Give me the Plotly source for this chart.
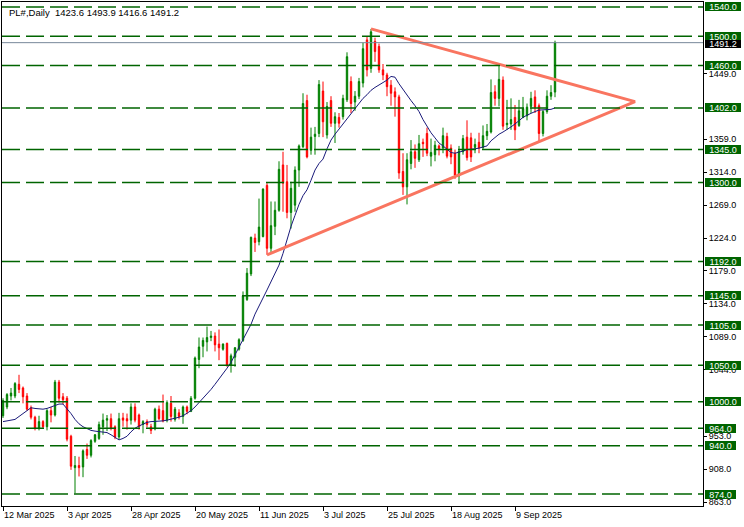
import numpy as np
import pandas as pd
import plotly.graph_objects as go

# ---------------- data ----------------
START = "2025-03-12"
END = "2025-09-23"
HOLIDAYS = ["2025-04-18"]
DATES = [d.strftime("%Y-%m-%d") for d in pd.bdate_range(START, END)
         if d.strftime("%Y-%m-%d") not in HOLIDAYS]

OPEN = [981, 993, 1008, 1008, 1024, 1019, 1008, 992, 979, 964,
        973, 966, 988, 982, 1027, 1007, 1005, 953, 910, 913,
        911, 935, 927, 946, 950, 966, 975, 977, 966, 952,
        978, 977, 975, 993, 982, 969, 973, 966, 963, 990,
        988, 975, 998, 976, 985, 980, 993, 987, 1005, 1058,
        1076, 1082, 1088, 1090, 1079, 1072, 1080, 1050, 1061, 1072,
        1084, 1140, 1175, 1224, 1219, 1226, 1296, 1210, 1240, 1262,
        1324, 1301, 1259, 1269, 1317, 1349, 1412, 1344, 1363, 1367,
        1425, 1365, 1412, 1381, 1389, 1390, 1413, 1438, 1410, 1418,
        1436, 1495, 1456, 1493, 1486, 1454, 1447, 1433, 1424, 1417,
        1315, 1294, 1326, 1342, 1331, 1355, 1367, 1336, 1338, 1350,
        1347, 1363, 1347, 1340, 1309, 1342, 1362, 1361, 1348, 1355,
        1348, 1364, 1369, 1424, 1415, 1440, 1379, 1380, 1389, 1378,
        1389, 1391, 1404, 1417, 1405, 1367, 1397, 1418, 1423.6]
HIGH = [1005, 1012, 1019, 1027, 1037, 1021, 1012, 995, 981, 981,
        975, 990, 993, 1030, 1030, 1012, 1008, 955, 926, 925,
        935, 943, 949, 956, 973, 984, 982, 984, 968, 985,
        985, 984, 998, 998, 984, 975, 976, 970, 992, 995,
        1010, 1002, 1008, 993, 990, 995, 995, 1008, 1062, 1088,
        1088, 1103, 1097, 1095, 1099, 1080, 1081, 1066, 1075, 1087,
        1151, 1183, 1226, 1230, 1278, 1292, 1299, 1274, 1274, 1329,
        1342, 1324, 1301, 1322, 1352, 1422, 1420, 1375, 1376, 1440,
        1438, 1410, 1418, 1396, 1395, 1420, 1478, 1445, 1425, 1443,
        1491, 1500, 1510, 1498, 1490, 1462, 1450, 1440, 1430, 1420,
        1340, 1340, 1358, 1352, 1365, 1360, 1375, 1360, 1357, 1352,
        1375, 1368, 1352, 1345, 1350, 1365, 1385, 1368, 1360, 1368,
        1378, 1380, 1441, 1433, 1460, 1445, 1413, 1415, 1406, 1413,
        1417, 1408, 1424, 1426, 1408, 1399, 1426, 1433, 1493.9]
LOW = [978, 990, 1002, 1005, 1012, 998, 988, 976, 961, 961,
       963, 961, 972, 980, 999, 997, 946, 907, 875, 898,
       897, 922, 924, 944, 948, 955, 960, 961, 949, 949,
       966, 962, 969, 972, 962, 957, 965, 956, 961, 975,
       972, 972, 973, 973, 976, 970, 983, 986, 1003, 1046,
       1061, 1069, 1083, 1069, 1057, 1070, 1048, 1040, 1048, 1070,
       1082, 1138, 1172, 1205, 1214, 1225, 1201, 1205, 1228, 1260,
       1260, 1251, 1237, 1260, 1294, 1347, 1333, 1338, 1338, 1362,
       1362, 1360, 1376, 1354, 1375, 1386, 1410, 1395, 1398, 1414,
       1430, 1445, 1450, 1465, 1450, 1440, 1418, 1405, 1390, 1305,
       1283, 1270, 1318, 1320, 1328, 1335, 1336, 1322, 1329, 1337,
       1340, 1333, 1325, 1305, 1298, 1338, 1330, 1328, 1340, 1340,
       1345, 1358, 1367, 1405, 1404, 1372, 1372, 1372, 1358, 1376,
       1388, 1385, 1395, 1395, 1356, 1363, 1394, 1413, 1416.6]
CLOSE = [1002, 1010, 1012, 1025, 1017, 1007, 990, 979, 964, 973,
         966, 988, 982, 1027, 1005, 1003, 949, 912, 913, 910,
         933, 927, 947, 955, 969, 975, 977, 964, 952, 977,
         975, 974, 993, 975, 966, 973, 969, 961, 990, 977,
         974, 999, 980, 990, 980, 993, 987, 1005, 1060, 1075,
         1084, 1088, 1090, 1078, 1074, 1079, 1050, 1063, 1074, 1085,
         1145, 1176, 1225, 1218, 1239, 1291, 1210, 1241, 1262, 1318,
         1299, 1259, 1292, 1317, 1350, 1408, 1335, 1362, 1366, 1434,
         1383, 1404, 1381, 1390, 1381, 1415, 1472, 1408, 1418, 1438,
         1483, 1454, 1506, 1479, 1454, 1447, 1431, 1422, 1417, 1313,
         1294, 1331, 1342, 1333, 1353, 1353, 1340, 1341, 1351, 1345,
         1364, 1336, 1335, 1310, 1343, 1360, 1334, 1335, 1352, 1347,
         1364, 1370, 1423, 1415, 1441, 1377, 1381, 1386, 1372, 1398,
         1401, 1403, 1415, 1403, 1367, 1397, 1418, 1423, 1491.2]
MA = [973, 974, 975, 976, 980, 984, 989, 992, 991, 990,
      990, 991, 993, 996, 997, 997, 991, 984, 976, 970,
      966, 963, 961, 960, 959, 959, 958, 955, 951, 948,
      950, 953, 959, 964, 967, 970, 972, 973, 973, 974,
      974, 975, 976, 977, 979, 981, 984, 988, 993, 999,
      1004, 1010, 1017, 1024, 1031, 1038, 1046, 1054, 1064, 1074,
      1084, 1094, 1106, 1120, 1132, 1142, 1153, 1164, 1176, 1187,
      1203, 1222, 1240, 1255, 1270, 1282, 1290, 1303, 1317, 1326,
      1332, 1346, 1358, 1366, 1373, 1380, 1388, 1395, 1402, 1409,
      1415, 1420, 1426, 1430, 1433, 1436, 1440, 1445, 1444, 1435,
      1427, 1420, 1412, 1405, 1397, 1386, 1377, 1368, 1361, 1354,
      1350, 1346, 1341, 1340, 1341, 1343, 1345, 1345, 1346, 1347,
      1348, 1350, 1357, 1362, 1366, 1369, 1372, 1376, 1380, 1385,
      1389, 1392, 1395, 1397, 1399, 1399, 1399, 1400, 1402]

LEVELS = [1540, 1500, 1460, 1402, 1345, 1300, 1192, 1145, 1105, 1050, 1000, 964, 940, 874]
AXIS_TICKS = [1449, 1359, 1314, 1269, 1224, 1179, 1134, 1089, 1044, 953, 908, 863]
LAST_PRICE = CLOSE[-1]
TICK_DATES = ["2025-03-12", "2025-04-03", "2025-04-28", "2025-05-20", "2025-06-11",
              "2025-07-03", "2025-07-25", "2025-08-18", "2025-09-09"]
TICK_TEXT = ["12 Mar 2025", "3 Apr 2025", "28 Apr 2025", "20 May 2025", "11 Jun 2025",
             "3 Jul 2025", "25 Jul 2025", "18 Aug 2025", "9 Sep 2025"]
TRI_DATES = ["2025-07-21", "2025-10-21", "2025-06-13"]
TRI_PRICES = [1510, 1410.5, 1201]

assert len(DATES) == len(OPEN) == len(HIGH) == len(LOW) == len(CLOSE) == len(MA)


def pos(d):
    """trading-day position on the chart's time scale"""
    return int(np.busday_count(START, d, holidays=HOLIDAYS))


X = [pos(d) for d in DATES]

FONT = "Liberation Sans"
GREEN_LVL = "#006400"

fig = go.Figure()
fig.add_trace(go.Candlestick(
    x=X, open=OPEN, high=HIGH, low=LOW, close=CLOSE,
    increasing=dict(line=dict(color="#008000", width=1), fillcolor="#008000"),
    decreasing=dict(line=dict(color="#FF0000", width=1), fillcolor="#FF0000"),
    hoverinfo="skip", showlegend=False,
))
fig.add_trace(go.Scatter(x=X, y=MA, mode="lines",
                         line=dict(color="#1a1a7a", width=1),
                         hoverinfo="skip", showlegend=False))
fig.add_trace(go.Scatter(x=[pos(d) for d in TRI_DATES], y=TRI_PRICES, mode="lines",
                         line=dict(color="#F97560", width=3),
                         hoverinfo="skip", showlegend=False))

shapes = []
for lv in LEVELS:
    shapes.append(dict(type="line", xref="paper", x0=0, x1=1, yref="y", y0=lv, y1=lv,
                       line=dict(color=GREEN_LVL, width=1.5, dash="18px,6px"), layer="above"))
shapes.append(dict(type="line", xref="paper", x0=0, x1=1, yref="y", y0=LAST_PRICE, y1=LAST_PRICE,
                   line=dict(color="#778899", width=1), layer="above"))

annotations = []
for lv in LEVELS:
    txt = f"{lv:.1f}"
    annotations.append(dict(
        x=1, xref="paper", y=lv, yref="y", xanchor="left", yanchor="middle", xshift=2,
        text=txt, showarrow=False, bgcolor=GREEN_LVL, borderpad=0, borderwidth=0,
        width=36 if len(txt) > 5 else 31, height=9,
        font=dict(family=FONT, size=9, color="white")))
annotations.append(dict(
    x=1, xref="paper", y=LAST_PRICE, yref="y", xanchor="left", yanchor="middle", xshift=2,
    yshift=-1, text=f"{LAST_PRICE:.1f}", showarrow=False, bgcolor="black", borderpad=0,
    borderwidth=0, width=36, height=8, font=dict(family=FONT, size=9, color="white")))
annotations.append(dict(
    x=0, xref="paper", y=1, yref="paper", xanchor="left", yanchor="top", xshift=5, yshift=-3,
    text=f"PL#,Daily  {OPEN[-1]:.1f} {HIGH[-1]:.1f} {LOW[-1]:.1f} {CLOSE[-1]:.1f}",
    showarrow=False, font=dict(family=FONT, size=9.5, color="black")))

fig.update_layout(
    width=744, height=527,
    margin=dict(l=2, r=41, t=2, b=21),
    paper_bgcolor="white", plot_bgcolor="white",
    font=dict(family=FONT, size=9, color="black"),
    showlegend=False, hovermode=False,
    boxgap=0.5,
    shapes=shapes, annotations=annotations,
    xaxis=dict(
        type="linear", range=[-0.25, 175],
        tickvals=[pos(d) for d in TICK_DATES], ticktext=TICK_TEXT,
        ticks="outside", ticklen=4, tickcolor="black", ticklabelposition="outside right",
        showgrid=False, zeroline=False, showline=True, linecolor="black", linewidth=1,
        mirror=True, rangeslider=dict(visible=False), fixedrange=True,
        tickfont=dict(family=FONT, size=9, color="black"),
    ),
    yaxis=dict(
        side="right", range=[857.6, 1546.8],
        tickvals=AXIS_TICKS, tickformat=".1f",
        ticks="outside", ticklen=3, tickcolor="black",
        showgrid=False, zeroline=False, showline=True, linecolor="black", linewidth=1,
        mirror=True, fixedrange=True,
        tickfont=dict(family=FONT, size=9, color="black"),
    ),
)

fig.write_html("out.html", config={"displayModeBar": False, "staticPlot": True},
               post_script="document.body.style.margin='0';")
